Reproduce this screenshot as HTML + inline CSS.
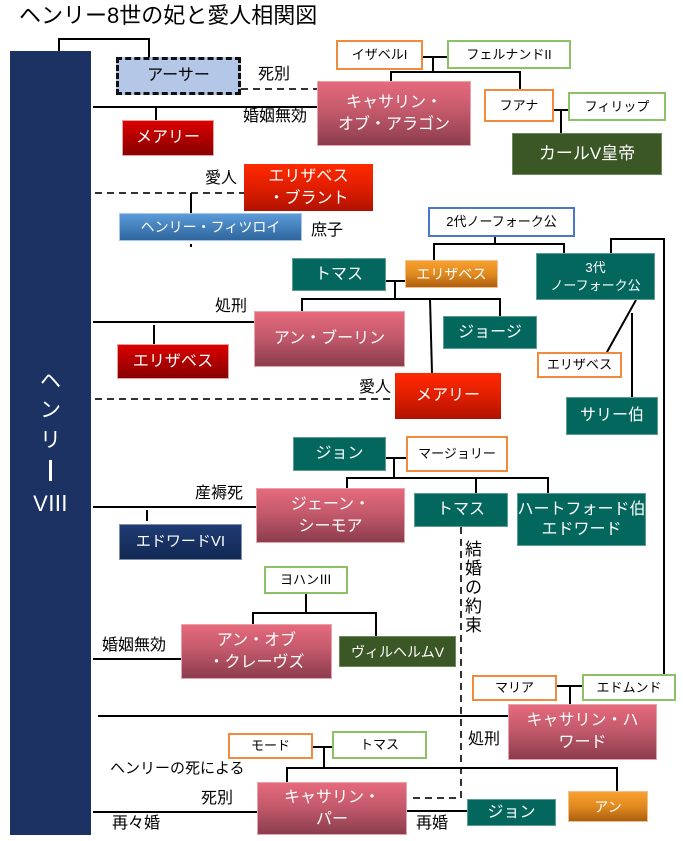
<!DOCTYPE html>
<html><head><meta charset="utf-8">
<style>
html,body{margin:0;padding:0;background:#fff;}
body{width:683px;height:841px;position:relative;overflow:hidden;font-family:"Liberation Sans","Noto Sans CJK JP",sans-serif;}
.b{position:absolute;box-sizing:border-box;display:flex;align-items:center;justify-content:center;text-align:center;color:#fff;font-size:16px;line-height:22px;white-space:nowrap;}
.pink{background:linear-gradient(#e56a7c,#c45a6c 45%,#8b3d4d);border:1px solid #e8a3ad;}
.red{background:linear-gradient(#dc0000,#b00000 50%,#880000);border:1px solid #e8a0a0;}
.ro{background:linear-gradient(#ff2a00,#e01e00 50%,#b01200);}
.teal{background:#03675e;border:1px solid #5d9c94;}
.dg{background:#3b5726;border:1px solid #6d8a5a;}
.navy{background:linear-gradient(#203c74,#112853);border:1px solid #7f8fb0;}
.blue{background:linear-gradient(#5b9cd8,#4480bc 50%,#2f669c);border:1px solid #a9c8e8;}
.or{background:linear-gradient(#f9a12e,#e08a20 50%,#ae5f10);border:1px solid #f0c090;font-size:14px;}
.wo{background:#fff;border:2px solid #f08a3c;color:#000;font-size:13px;}
.wg{background:#fff;border:2px solid #8cc168;color:#000;font-size:13px;}
.wb{background:#fff;border:2px solid #4a78c8;color:#000;font-size:13px;}
.l{position:absolute;font-size:16px;line-height:18px;color:#000;white-space:nowrap;}
.bar{position:absolute;left:10px;top:51px;width:81px;height:784px;background:#1b3262;}
.vc{position:absolute;color:#fff;font-size:21px;line-height:22px;width:81px;text-align:center;left:10px;}
</style></head><body>
<div class="l" style="left:19px;top:3px;font-size:22px;line-height:26px;">ヘンリー8世の妃と愛人相関図</div>
<div class="bar"></div>
<div class="vc" style="top:371px;">ヘ</div>
<div class="vc" style="top:400px;">ン</div>
<div class="vc" style="top:430px;">リ</div>
<div style="position:absolute;left:49px;top:460px;width:3px;height:21px;background:#fff;"></div>
<div class="vc" style="top:493px;font-size:22px;letter-spacing:-1px;">VⅢ</div>

<svg width="683" height="841" style="position:absolute;left:0;top:0" fill="none" stroke="#000" stroke-width="2">
<path d="M59,51V39H149V57"/>
<path d="M241,89H317" stroke="#333" stroke-dasharray="7,5"/>
<path d="M93,107H317M156,107V120"/>
<path d="M423,57H447M433,57V72M391,81V72H520V89"/>
<path d="M554,110H568M561,110V133"/>
<path d="M95,193H244" stroke="#333" stroke-dasharray="7,5"/>
<path d="M191,193V213"/>
<path d="M191,244V247"/>
<path d="M93,322H254M154,325V344"/>
<path d="M386,281H405M395,281V299M302,311V299H500V316M430,299L432,373"/>
<path d="M495,237V244M434,260V244H564V253"/>
<path d="M611,253V239H664V674"/>
<path d="M636,300L607,352M632,313V397"/>
<path d="M95,399H395" stroke="#333" stroke-dasharray="7,5"/>
<path d="M386,458H406M394,458V478M347,488V478H548V493M476,478V493"/>
<path d="M93,507H256M147,510V521"/>
<path d="M461,527V798H408" stroke="#333" stroke-dasharray="7,5"/>
<path d="M306,594V613M253,624V613H376V636"/>
<path d="M93,659H181"/>
<path d="M557,686H582M570,686V704M98,716H508"/>
<path d="M313,747H332M324,747V768M287,782V768H617V792"/>
<path d="M407,811H467M93,812H257"/>
</svg>

<div class="b" style="left:116px;top:57px;width:125px;height:38px;background:#b4c7e7;border:3px dashed #111;color:#000;font-size:16px;">アーサー</div>
<div class="l" style="left:258px;top:66px;">死別</div>
<div class="l" style="left:243px;top:108px;">婚姻無効</div>
<div class="b red" style="left:122px;top:120px;width:92px;height:36px;">メアリー</div>
<div class="b pink" style="left:317px;top:81px;width:154px;height:65px;">キャサリン・<br>オブ・アラゴン</div>
<div class="b wo" style="left:336px;top:40px;width:87px;height:30px;">イザベルI</div>
<div class="b wg" style="left:447px;top:40px;width:124px;height:29px;">フェルナンドII</div>
<div class="b wo" style="left:484px;top:89px;width:70px;height:33px;">フアナ</div>
<div class="b wg" style="left:568px;top:92px;width:98px;height:29px;">フィリップ</div>
<div class="b dg" style="left:512px;top:133px;width:150px;height:42px;font-size:17px;">カールV皇帝</div>

<div class="l" style="left:205px;top:170px;">愛人</div>
<div class="b ro" style="left:244px;top:164px;width:129px;height:47px;">エリザベス<br>・ブラント</div>
<div class="b blue" style="left:119px;top:213px;width:183px;height:28px;font-size:14px;">ヘンリー・フィツロイ</div>
<div class="l" style="left:311px;top:222px;">庶子</div>

<div class="b wb" style="left:428px;top:207px;width:147px;height:30px;">2代ノーフォーク公</div>
<div class="b teal" style="left:292px;top:258px;width:94px;height:33px;">トマス</div>
<div class="b or" style="left:405px;top:260px;width:93px;height:28px;">エリザベス</div>
<div class="b teal" style="left:536px;top:253px;width:119px;height:47px;font-size:13px;line-height:18px;">3代<br>ノーフォーク公</div>
<div class="l" style="left:215px;top:298px;">処刑</div>
<div class="b pink" style="left:254px;top:311px;width:151px;height:56px;">アン・ブーリン</div>
<div class="b teal" style="left:443px;top:316px;width:94px;height:33px;">ジョージ</div>
<div class="b red" style="left:117px;top:344px;width:112px;height:35px;">エリザベス</div>
<div class="b wo" style="left:537px;top:352px;width:85px;height:26px;">エリザベス</div>
<div class="l" style="left:359px;top:379px;">愛人</div>
<div class="b ro" style="left:395px;top:373px;width:106px;height:46px;">メアリー</div>
<div class="b teal" style="left:566px;top:397px;width:92px;height:38px;">サリー伯</div>

<div class="b teal" style="left:293px;top:437px;width:93px;height:34px;">ジョン</div>
<div class="b wo" style="left:406px;top:436px;width:102px;height:36px;">マージョリー</div>
<div class="l" style="left:195px;top:485px;">産褥死</div>
<div class="b pink" style="left:256px;top:488px;width:149px;height:55px;">ジェーン・<br>シーモア</div>
<div class="b teal" style="left:414px;top:493px;width:94px;height:34px;">トマス</div>
<div class="b teal" style="left:517px;top:493px;width:129px;height:53px;line-height:20px;">ハートフォード伯<br>エドワード</div>
<div class="b navy" style="left:119px;top:524px;width:123px;height:36px;font-size:15px;">エドワードVI</div>
<div class="l" style="left:465px;top:540px;width:18px;font-size:17px;line-height:19px;white-space:normal;">結婚の約束</div>

<div class="b wg" style="left:264px;top:566px;width:84px;height:28px;">ヨハンⅢ</div>
<div class="l" style="left:102px;top:637px;">婚姻無効</div>
<div class="b pink" style="left:181px;top:624px;width:151px;height:55px;">アン・オブ<br>・クレーヴズ</div>
<div class="b dg" style="left:339px;top:636px;width:117px;height:31px;font-size:14px;">ヴィルヘルムV</div>

<div class="b wo" style="left:472px;top:675px;width:85px;height:26px;">マリア</div>
<div class="b wg" style="left:582px;top:674px;width:94px;height:27px;">エドムンド</div>
<div class="b pink" style="left:508px;top:704px;width:149px;height:56px;">キャサリン・ハ<br>ワード</div>
<div class="l" style="left:468px;top:731px;">処刑</div>

<div class="b wo" style="left:228px;top:733px;width:85px;height:26px;">モード</div>
<div class="b wg" style="left:332px;top:731px;width:95px;height:28px;">トマス</div>
<div class="l" style="left:110px;top:760px;font-size:15px;">ヘンリーの死による</div>
<div class="l" style="left:201px;top:790px;">死別</div>
<div class="l" style="left:112px;top:815px;">再々婚</div>
<div class="b pink" style="left:257px;top:782px;width:150px;height:53px;">キャサリン・<br>パー</div>
<div class="b teal" style="left:467px;top:799px;width:89px;height:27px;">ジョン</div>
<div class="b or" style="left:568px;top:791px;width:80px;height:31px;">アン</div>
<div class="l" style="left:416px;top:815px;">再婚</div>
</body></html>
